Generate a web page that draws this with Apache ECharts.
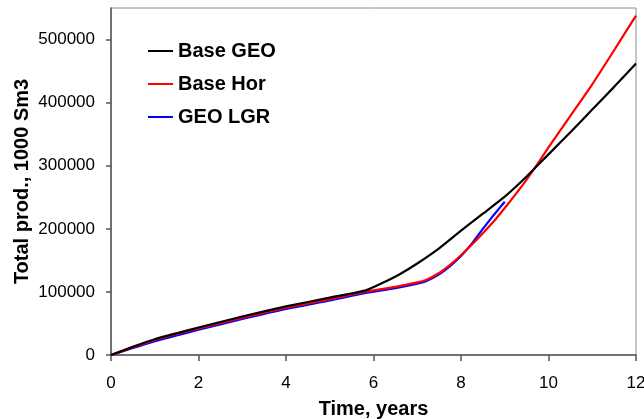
<!DOCTYPE html>
<html>
<head>
<meta charset="utf-8">
<script src="https://cdn.jsdelivr.net/npm/echarts@6/dist/echarts.min.js"></script>
<style>
html,body{margin:0;padding:0;background:#fff;}
#chart{width:644px;height:419px;}
</style>
</head>
<body>
<div id="chart"></div>
<script>
var seriesNames = ['Base GEO', 'Base Hor', 'GEO LGR'];
var seriesColors = ['#000000', '#ff0000', '#0000ff'];

var geoT = [0, 0.5, 1, 1.5, 2, 3, 4, 5, 5.8, 6.2, 6.6, 7, 7.5, 8, 8.5, 9, 9.5, 10, 10.5, 11, 11.5, 12];
var geoV = [0, 13000, 25000, 34500, 43500, 61000, 77000, 91000, 102000, 114000, 128000, 145000, 169000, 197000, 224000, 251000, 283000, 318000, 353000, 389000, 425000, 462000];

var horT = [0, 0.5, 1, 1.5, 2, 3, 4, 5, 5.8, 6.5, 7, 7.2, 7.5, 7.75, 8, 8.25, 8.5, 8.75, 9, 9.25, 9.5, 9.75, 10, 10.5, 11, 11.5, 12];
var horV = [0, 12500, 24000, 33500, 42000, 59000, 75000, 88500, 100000, 108000, 115000, 119000, 130000, 143000, 158000, 175000, 193000, 212000, 233000, 255000, 278000, 303000, 329000, 379000, 429000, 483000, 538000];

var lgrT = [0, 0.5, 1, 1.5, 2, 3, 4, 5, 5.8, 6.5, 7, 7.2, 7.5, 7.75, 8, 8.25, 8.5, 8.75, 9];
var lgrV = [0, 11000, 22000, 31000, 40000, 57000, 73000, 86500, 98000, 106000, 113000, 117000, 128000, 141000, 157000, 177000, 200000, 222000, 243000];

var xTicks = [0, 2, 4, 6, 8, 10, 12];
var yTicks = [0, 100000, 200000, 300000, 400000, 500000];

function pairs(t, v) { return t.map(function (x, i) { return [x, v[i]]; }); }
var dataSets = [pairs(geoT, geoV), pairs(horT, horV), pairs(lgrT, lgrV)];

var chart = echarts.init(document.getElementById('chart'), null, {renderer: 'canvas'});
var font = 'Arial, "Liberation Sans", sans-serif';
chart.setOption({
  animation: false,
  backgroundColor: '#ffffff',
  grid: {left: 111, right: 8, top: 8, bottom: 64, containLabel: false, outerBoundsMode: 'none',
         show: true, borderColor: '#8c8c8c', borderWidth: 1, backgroundColor: 'transparent'},
  legend: {
    orient: 'vertical', left: 148, top: 41, padding: 0,
    itemWidth: 25, itemHeight: 2, itemGap: 13, icon: 'rect',
    textStyle: {fontFamily: font, fontSize: 20, fontWeight: 'bold', color: '#000'},
    data: seriesNames
  },
  xAxis: {
    type: 'value', min: 0, max: 12, interval: 2,
    name: 'Time, years', nameLocation: 'middle', nameGap: 44, nameMoveOverlap: false,
    nameTextStyle: {fontFamily: font, fontSize: 20, fontWeight: 'bold', color: '#000'},
    axisLine: {show: true, lineStyle: {color: '#555', width: 1.5}},
    axisTick: {show: true, length: 6, lineStyle: {color: '#555', width: 1.5}},
    axisLabel: {fontFamily: font, fontSize: 17, color: '#000', margin: 20, customValues: xTicks,
                formatter: function (v) { return String(v); }},
    splitLine: {show: false}
  },
  yAxis: {
    type: 'value', min: 0, max: 550000, interval: 100000,
    name: 'Total prod., 1000 Sm3', nameLocation: 'middle', nameGap: 79, nameMoveOverlap: false,
    nameTextStyle: {fontFamily: font, fontSize: 20, fontWeight: 'bold', color: '#000'},
    axisLine: {show: true, lineStyle: {color: '#555', width: 1.5}},
    axisTick: {show: true, length: 5, lineStyle: {color: '#555', width: 1.5}, customValues: yTicks},
    axisLabel: {fontFamily: font, fontSize: 17, color: '#000', margin: 16, customValues: yTicks,
                formatter: function (v) { return String(v); }},
    splitLine: {show: false}
  },
  series: seriesNames.map(function (n, i) {
    return {
      name: n, type: 'line', data: dataSets[i], symbol: 'none', showSymbol: false,
      smooth: 0.2,
      lineStyle: {color: seriesColors[i], width: 2.2},
      itemStyle: {color: seriesColors[i]},
      z: 3 - i
    };
  })
});
</script>
</body>
</html>
